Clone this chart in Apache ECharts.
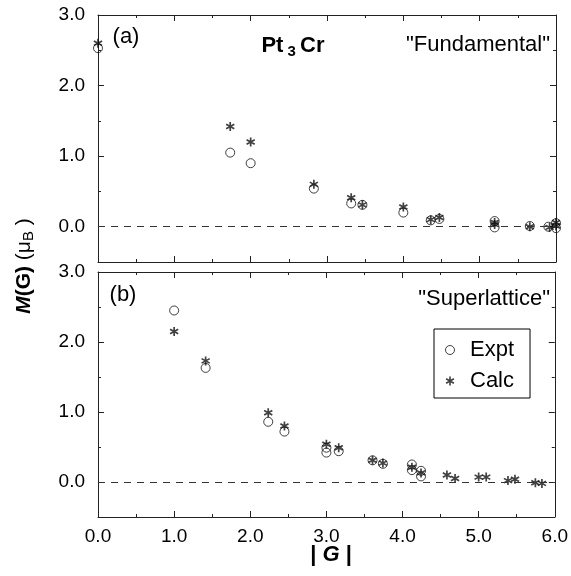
<!DOCTYPE html>
<html>
<head>
<meta charset="utf-8">
<script src="https://cdn.jsdelivr.net/npm/echarts@6/dist/echarts.min.js"></script>
<style>html,body{margin:0;padding:0;background:#fff;}#c{width:571px;height:576px;}</style>
</head>
<body>
<div id="c"></div>
<script>
// ---- data ----
const xTicks = [0, 1, 2, 3, 4, 5, 6];
const yTickLabels = [0, 1, 2, 3];
const yMinorTicks = [0.5, 1.5, 2.5];

// (a) "Fundamental"
const fundExptX = [0, 1.732, 2.0, 2.828, 3.317, 3.464, 4.0, 4.359, 4.472, 5.196, 5.196, 5.657, 5.90, 6.0, 6.0];
const fundExptY = [2.53, 1.05, 0.90, 0.54, 0.33, 0.31, 0.20, 0.09, 0.11, 0.08, -0.01, 0.01, 0.0, 0.05, -0.02];
const fundCalcX = [0, 1.732, 2.0, 2.828, 3.317, 3.464, 4.0, 4.359, 4.472, 5.196, 5.196, 5.657, 5.916, 6.0, 6.0];
const fundCalcY = [2.60, 1.42, 1.20, 0.60, 0.41, 0.31, 0.28, 0.10, 0.13, 0.06, 0.03, 0.0, -0.01, 0.06, 0.01];

// (b) "Superlattice"
const supExptX = [1.0, 1.414, 2.236, 2.449, 3.0, 3.0, 3.162, 3.606, 3.742, 4.123, 4.123, 4.243, 4.243];
const supExptY = [2.45, 1.63, 0.86, 0.72, 0.49, 0.42, 0.44, 0.31, 0.26, 0.25, 0.17, 0.16, 0.08];
const supCalcX = [1.0, 1.414, 2.236, 2.449, 3.0, 3.162, 3.606, 3.742, 4.123, 4.243, 4.583, 4.690, 5.0, 5.099, 5.385, 5.477, 5.745, 5.831];
const supCalcY = [2.15, 1.73, 0.99, 0.80, 0.54, 0.49, 0.31, 0.27, 0.21, 0.13, 0.10, 0.05, 0.07, 0.07, 0.02, 0.04, -0.01, -0.02];

// ---- chart ----
const FONT = "'Liberation Sans', Arial, Helvetica, sans-serif";
const LINE = {color: '#222', width: 1};

function pairs(xs, ys) { return xs.map((x, i) => [x, ys[i]]); }

function asteriskPath() {
  let d = '';
  [90, 30, 150].forEach(a => {
    const r = a * Math.PI / 180, c = Math.cos(r), s = Math.sin(r);
    const L = 50, W = 9, px = -s * W, py = c * W;
    const pts = [[c*L+px, s*L+py], [c*L-px, s*L-py], [-c*L-px, -s*L-py], [-c*L+px, -s*L+py]];
    d += 'M' + pts.map(p => (p[0] + 50).toFixed(2) + ' ' + (p[1] + 50).toFixed(2)).join(' L') + ' Z ';
  });
  return 'path://' + d;
}
const STAR = asteriskPath();

function xAxis(g, pos, labels) {
  return {
    type: 'value', gridIndex: g, position: pos, min: 0, max: 6, interval: 1,
    axisLine: {show: true, onZero: false, lineStyle: LINE},
    axisTick: {show: true, inside: true, length: 6, lineStyle: LINE},
    minorTick: {show: true, splitNumber: 2, length: 3, lineStyle: LINE},
    axisLabel: {show: labels, formatter: v => v.toFixed(1), fontSize: 19, margin: 10, color: '#000', fontFamily: FONT},
    splitLine: {show: false}
  };
}
function yAxis(g, pos, labels, minor) {
  return {
    type: 'value', gridIndex: g, position: pos, min: -0.5, max: 3, interval: 0.5,
    axisLine: {show: !minor, onZero: false, lineStyle: LINE},
    axisTick: {show: true, inside: true, length: minor ? 3 : 6, customValues: minor ? yMinorTicks : yTickLabels, lineStyle: LINE},
    axisLabel: {show: labels, customValues: yTickLabels, formatter: v => v.toFixed(1), fontSize: 19, margin: 13, color: '#000', fontFamily: FONT},
    splitLine: {show: false}
  };
}

const zeroLine = {
  silent: true, symbol: ['none', 'none'], label: {show: false},
  lineStyle: {type: [7, 6], color: '#333', width: 1},
  data: [{yAxis: 0}]
};
const circleStyle = {color: 'rgba(0,0,0,0)', borderColor: '#111', borderWidth: 1};
const starStyle = {color: '#111'};

const option = {
  animation: false,
  backgroundColor: '#fff',
  grid: [
    {left: 98, top: 15, width: 458, height: 247},
    {left: 98, top: 272, width: 458, height: 245}
  ],
  xAxis: [xAxis(0, 'bottom', false), xAxis(0, 'top', false), xAxis(1, 'bottom', true), xAxis(1, 'top', false)],
  yAxis: [
    yAxis(0, 'left', true, false), yAxis(0, 'right', false, false),
    yAxis(1, 'left', true, false), yAxis(1, 'right', false, false),
    yAxis(0, 'left', false, true), yAxis(0, 'right', false, true),
    yAxis(1, 'left', false, true), yAxis(1, 'right', false, true)
  ],
  legend: {
    orient: 'vertical', left: 434, top: 329,
    padding: [10, 16, 6, 11], itemGap: 9, itemWidth: 24, itemHeight: 9,
    borderColor: '#000', borderWidth: 1, selectedMode: false,
    itemStyle: {borderWidth: 1},
    textStyle: {fontSize: 22, color: '#000', fontFamily: FONT, padding: [0, 0, 0, 3]},
    data: ['Expt', 'Calc']
  },
  series: [
    {name: 'Expt', type: 'scatter', xAxisIndex: 0, yAxisIndex: 0, symbol: 'circle', symbolSize: 9,
     itemStyle: circleStyle, data: pairs(fundExptX, fundExptY), markLine: zeroLine},
    {name: 'Calc', type: 'scatter', xAxisIndex: 0, yAxisIndex: 0, symbol: STAR, symbolSize: 9,
     itemStyle: starStyle, data: pairs(fundCalcX, fundCalcY)},
    {name: 'Expt', type: 'scatter', xAxisIndex: 2, yAxisIndex: 2, symbol: 'circle', symbolSize: 9,
     itemStyle: circleStyle, data: pairs(supExptX, supExptY), markLine: zeroLine},
    {name: 'Calc', type: 'scatter', xAxisIndex: 2, yAxisIndex: 2, symbol: STAR, symbolSize: 9,
     itemStyle: starStyle, data: pairs(supCalcX, supCalcY)}
  ],
  graphic: [
    {type: 'text', x: 126, y: 37, style: {text: '(a)', fontSize: 22, fontFamily: FONT, fill: '#000', align: 'center', verticalAlign: 'middle'}},
    {type: 'text', x: 123, y: 295, style: {text: '(b)', fontSize: 22, fontFamily: FONT, fill: '#000', align: 'center', verticalAlign: 'middle'}},
    {type: 'text', x: 293, y: 46, style: {
      text: '{b|Pt}{s| 3 }{b|Cr}', align: 'center', verticalAlign: 'middle',
      rich: {
        b: {fontSize: 22, fontWeight: 'bold', fontFamily: FONT, fill: '#000', lineHeight: 26},
        s: {fontSize: 15, fontWeight: 'bold', fontFamily: FONT, fill: '#000', lineHeight: 15, verticalAlign: 'bottom'}
      }}},
    {type: 'text', x: 550, y: 45, style: {text: '"Fundamental"', fontSize: 22, fontFamily: FONT, fill: '#000', align: 'right', verticalAlign: 'middle'}},
    {type: 'text', x: 550, y: 299, style: {text: '"Superlattice"', fontSize: 22, fontFamily: FONT, fill: '#000', align: 'right', verticalAlign: 'middle'}},
    {type: 'text', x: 331, y: 555, style: {
      text: '{b|| }{bi|G}{b| |}', align: 'center', verticalAlign: 'middle',
      rich: {
        b: {fontSize: 22, fontWeight: 'bold', fontFamily: FONT, fill: '#000'},
        bi: {fontSize: 22, fontWeight: 'bold', fontStyle: 'italic', fontFamily: FONT, fill: '#000'}
      }}},
    {type: 'text', x: 24, y: 266, rotation: Math.PI / 2, style: {
      text: '{i|M}{b|(G)}{n| (μ}{s|B}{n| )}', align: 'center', verticalAlign: 'middle',
      rich: {
        i: {fontSize: 21, fontStyle: 'italic', fontWeight: 'bold', fontFamily: FONT, fill: '#000', lineHeight: 24},
        b: {fontSize: 21, fontWeight: 'bold', fontFamily: FONT, fill: '#000', lineHeight: 24},
        n: {fontSize: 21, fontFamily: FONT, fill: '#000', lineHeight: 24},
        s: {fontSize: 15, fontFamily: FONT, fill: '#000', lineHeight: 15, verticalAlign: 'bottom'}
      }}}
  ]
};

const chart = echarts.init(document.getElementById('c'), null, {renderer: 'canvas'});
chart.setOption(option);
</script>
</body>
</html>
